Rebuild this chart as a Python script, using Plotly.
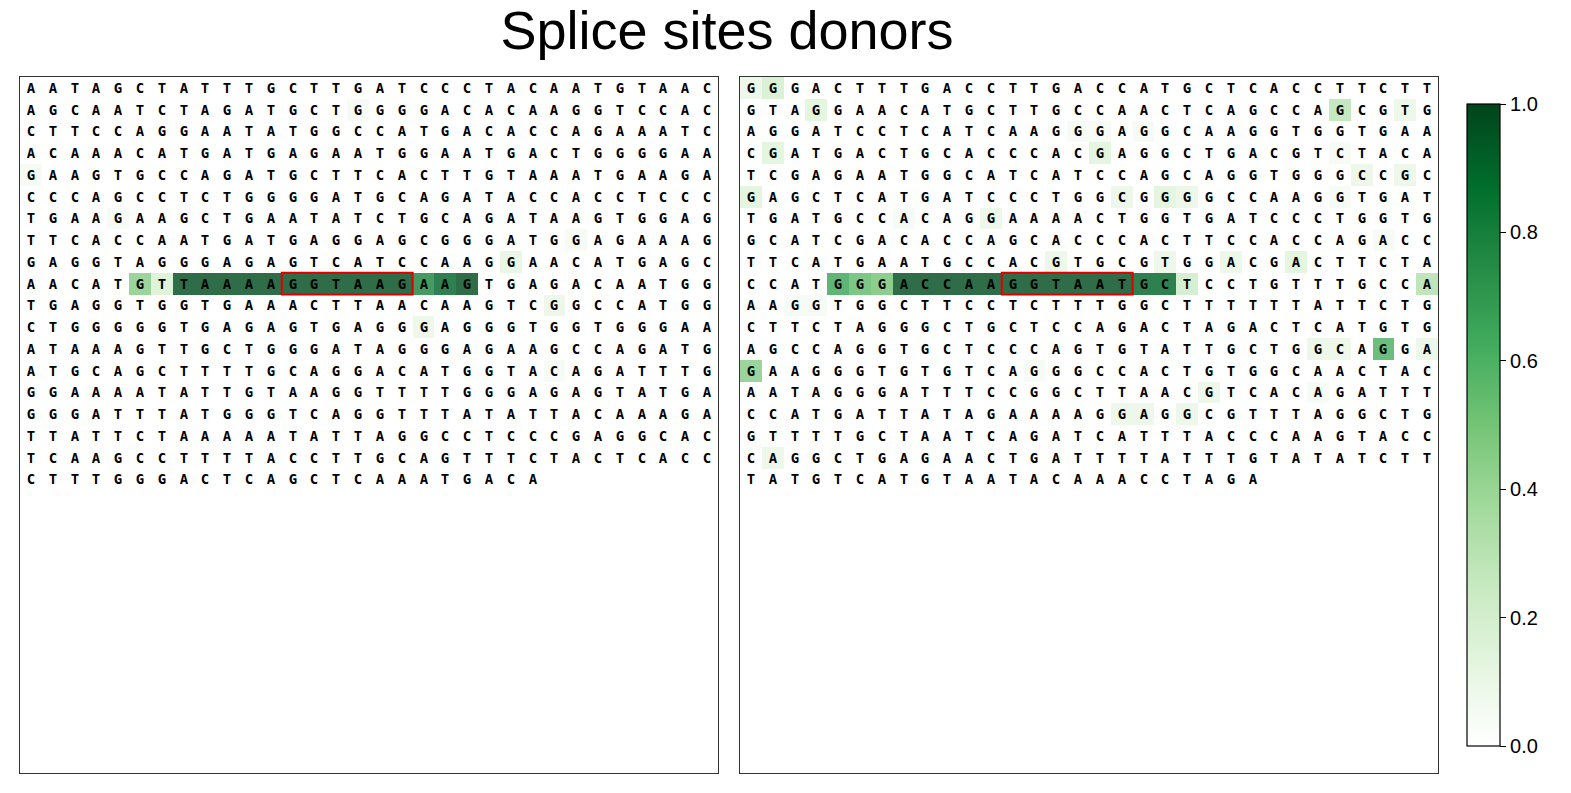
import numpy as np
import plotly.graph_objects as go

title = "Splice sites donors"
ncols = 32

left_seq = [
    "AATAGCTATTTGCTTGATCCCTACAATGTAAC",
    "AGCAATCTAGATGCTGGGGACACAAGGTCCAC",
    "CTTCCAGGAATATGGCCATGACACCAGAAATC",
    "ACAAACATGATGAGAATGGAATGACTGGGGAA",
    "GAAGTGCCAGATGCTTCACTTGTAAATGAAGA",
    "CCCAGCCTCTGGGGATGCAGATACCACCTCCC",
    "TGAAGAAGCTGAATATCTGCAGATAAGTGGAG",
    "TTCACCAATGATGAGGAGCGGGATGGAGAAAG",
    "GAGGTAGGGAGAGTCATCCAAGGAACATGAGC",
    "AACATGTTAAAAGGTAAGAAGTGAGACAATGG",
    "TGAGGTGGTGAAACTTAACAAGTCGGCCATGG",
    "CTGGGGGTGAGAGTGAGGGAGGGTGGTGGGAA",
    "ATAAAGTTGCTGGGATAGGGAGAAGCCAGATG",
    "ATGCAGCTTTTGCAGGACATGGTACAGATTTG",
    "GGAAAATATTGTAAGGTTTTGGGAGAGTATGA",
    "GGGATTTATGGGTCAGGTTTATATTACAAAGA",
    "TTATTCTAAAAATATTAGGCCTCCCGAGGCAC",
    "TCAAGCCTTTTACCTTGCAGTTTCTACTCACC",
    "CTTTGGGACTCAGCTCAAATGACA",
]
right_seq = [
    "GGGACTTTGACCTTGACCATGCTCACCTTCTT",
    "GTAGGAACATGCTTGCCAACTCAGCCAGCGTG",
    "AGGATCCTCATCAAGGGAGGCAAGGTGGTGAA",
    "CGATGACTGCACCCACGAGGCTGACGTCTACA",
    "TCGAGAATGGCATCATCCAGCAGGTGGGCCGC",
    "GAGCTCATGATCCCTGGCGGGGCCAAGGTGAT",
    "TGATGCCACAGGAAAACTGGTGATCCCTGGTG",
    "GCATCGACACCAGCACCCACTTCCACCAGACC",
    "TTCATGAATGCCACGTGCGTGGACGACTTCTA",
    "CCATGGGACCAAGGTAATGCTCCTGTTTGCCA",
    "AAGGTGGCTTCCTCTTTGGCTTTTTTATTCTG",
    "CTTCTAGGGCTGCTCCAGACTAGACTCATGTG",
    "AGCCAGGTGCTCCCAGTGTATTGCTGGCAGGA",
    "GAAGGGTGTGTCAGGGCCACTGTGGCAACTAC",
    "AATAGGGATTTCCGGCTTAACGTCACAGATTT",
    "CCATGATTATAGAAAAGGAGGCGTTTAGGCTG",
    "GTTTTGCTAATCAGATCATTTACCCAAGTACC",
    "CAGGCTGAGAACTGATTTTATTTGTATATCTT",
    "TATGTCATGTAATACAAACCTAGA",
]

# (row, col, score) for non-zero cells
left_scores = [
    (1, 15, 0.05), (4, 0, 0.05), (6, 4, 0.05), (7, 25, 0.05), (8, 22, 0.12),
    (9, 5, 0.45), (9, 6, 0.18),
    (9, 7, 0.97), (9, 8, 0.97), (9, 9, 0.97), (9, 10, 0.97), (9, 11, 0.97),
    (9, 12, 0.97), (9, 13, 0.97), (9, 14, 0.97), (9, 15, 0.97), (9, 16, 0.97),
    (9, 17, 0.97), (9, 18, 0.78), (9, 19, 0.9), (9, 20, 0.97),
    (10, 24, 0.1), (11, 18, 0.1), (13, 24, 0.05),
]
right_scores = [
    (0, 0, 0.1), (0, 1, 0.2), (1, 3, 0.15), (1, 27, 0.3), (1, 30, 0.1),
    (2, 15, 0.05), (2, 16, 0.05), (2, 18, 0.05),
    (3, 1, 0.15), (3, 16, 0.15), (3, 27, 0.05), (4, 28, 0.1), (4, 30, 0.1),
    (5, 0, 0.15), (5, 17, 0.1), (5, 19, 0.15), (5, 20, 0.1), (5, 27, 0.05),
    (6, 7, 0.05), (6, 11, 0.1), (7, 29, 0.05),
    (8, 14, 0.1), (8, 19, 0.1), (8, 22, 0.1), (8, 25, 0.15),
    (9, 4, 0.65), (9, 5, 0.55), (9, 6, 0.5),
    (9, 7, 0.97), (9, 8, 0.97), (9, 9, 0.97), (9, 10, 0.97), (9, 11, 0.97),
    (9, 12, 0.97), (9, 13, 0.97), (9, 14, 0.97), (9, 15, 0.97), (9, 16, 0.97),
    (9, 17, 0.97), (9, 18, 0.9), (9, 19, 0.9), (9, 20, 0.22), (9, 31, 0.32),
    (10, 2, 0.05), (10, 3, 0.05),
    (12, 26, 0.1), (12, 27, 0.1), (12, 29, 0.6), (12, 31, 0.1),
    (13, 0, 0.45), (13, 13, 0.05), (14, 21, 0.1), (14, 26, 0.05),
    (15, 17, 0.1), (15, 18, 0.1), (15, 20, 0.1), (17, 1, 0.1),
]
# donor site boxes: (row, first col, last col)
left_box = (9, 12, 17)
right_box = (9, 12, 17)

greens = [[0.0, "#ffffff"], [0.125, "#e5f5e0"], [0.25, "#c7e9c0"], [0.375, "#a1d99b"],
          [0.5, "#74c476"], [0.625, "#41ab5d"], [0.75, "#238b45"], [0.875, "#006d2c"],
          [1.0, "#00441b"]]


def grid(seqs, scores):
    z = np.full((ncols, ncols), np.nan)
    txt = np.full((ncols, ncols), "", dtype=object)
    for r, s in enumerate(seqs):
        for c, ch in enumerate(s):
            z[r, c] = 0.0
            txt[r, c] = ch
    for r, c, v in scores:
        z[r, c] = v
    return z, txt


fig = go.Figure()
# page body has an 8px margin
off = 8
W, H = 1571 - 2 * off, 793 - 2 * off


def px(x):
    return (x - off) / W


def py(y):
    return 1 - (y - off) / H


doms = [(px(20), px(718)), (px(740), px(1438))]
ydom = (py(773), py(77))

for i, (seqs, scores, box) in enumerate([(left_seq, left_scores, left_box),
                                         (right_seq, right_scores, right_box)]):
    z, txt = grid(seqs, scores)
    sfx = "" if i == 0 else "2"
    fig.add_trace(go.Heatmap(
        z=z, text=txt, texttemplate="%{text}", opacity=0.82,
        textfont=dict(family="DejaVu Sans Mono", size=14, color="#000000", weight="bold"),
        colorscale=greens, zmin=0, zmax=1, hoverongaps=False,
        xaxis="x" + sfx, yaxis="y" + sfx,
        showscale=(i == 0),
        colorbar=dict(x=px(1467), xanchor="left", y=py(425), yanchor="middle",
                      thickness=33, len=642, lenmode="pixels", xpad=0, ypad=0,
                      outlinecolor="black", outlinewidth=1.2,
                      ticks="outside", ticklen=6, tickcolor="black",
                      tickvals=[0, 0.2, 0.4, 0.6, 0.8, 1.0],
                      ticktext=["0.0", "0.2", "0.4", "0.6", "0.8", "1.0"],
                      tickfont=dict(family="Liberation Sans", size=20, color="black")),
    ))
    r, c0, c1 = box
    fig.add_shape(type="rect", xref="x" + sfx, yref="y" + sfx,
                  x0=c0 - 0.5, x1=c1 + 0.5, y0=r - 0.5, y1=r + 0.5,
                  line=dict(color="#e00000", width=2))
    ax = dict(domain=doms[i], range=[-0.5, ncols - 0.5], showticklabels=False,
              ticks="", showgrid=False, zeroline=False, showline=True,
              linecolor="#333", linewidth=1, mirror=True, anchor="y" + sfx)
    ay = dict(domain=ydom, range=[ncols - 0.5, -0.5], showticklabels=False,
              ticks="", showgrid=False, zeroline=False, showline=True,
              linecolor="#333", linewidth=1, mirror=True, anchor="x" + sfx)
    fig.update_layout(**{"xaxis" + sfx: ax, "yaxis" + sfx: ay})

fig.update_layout(
    width=W, height=H, margin=dict(l=0, r=0, t=0, b=0),
    paper_bgcolor="white", plot_bgcolor="white",
    title=dict(text=title, x=px(727), xanchor="center", y=py(30), yanchor="middle",
               font=dict(family="Liberation Sans", size=54, color="black")),
)

fig.write_html("out.html")
